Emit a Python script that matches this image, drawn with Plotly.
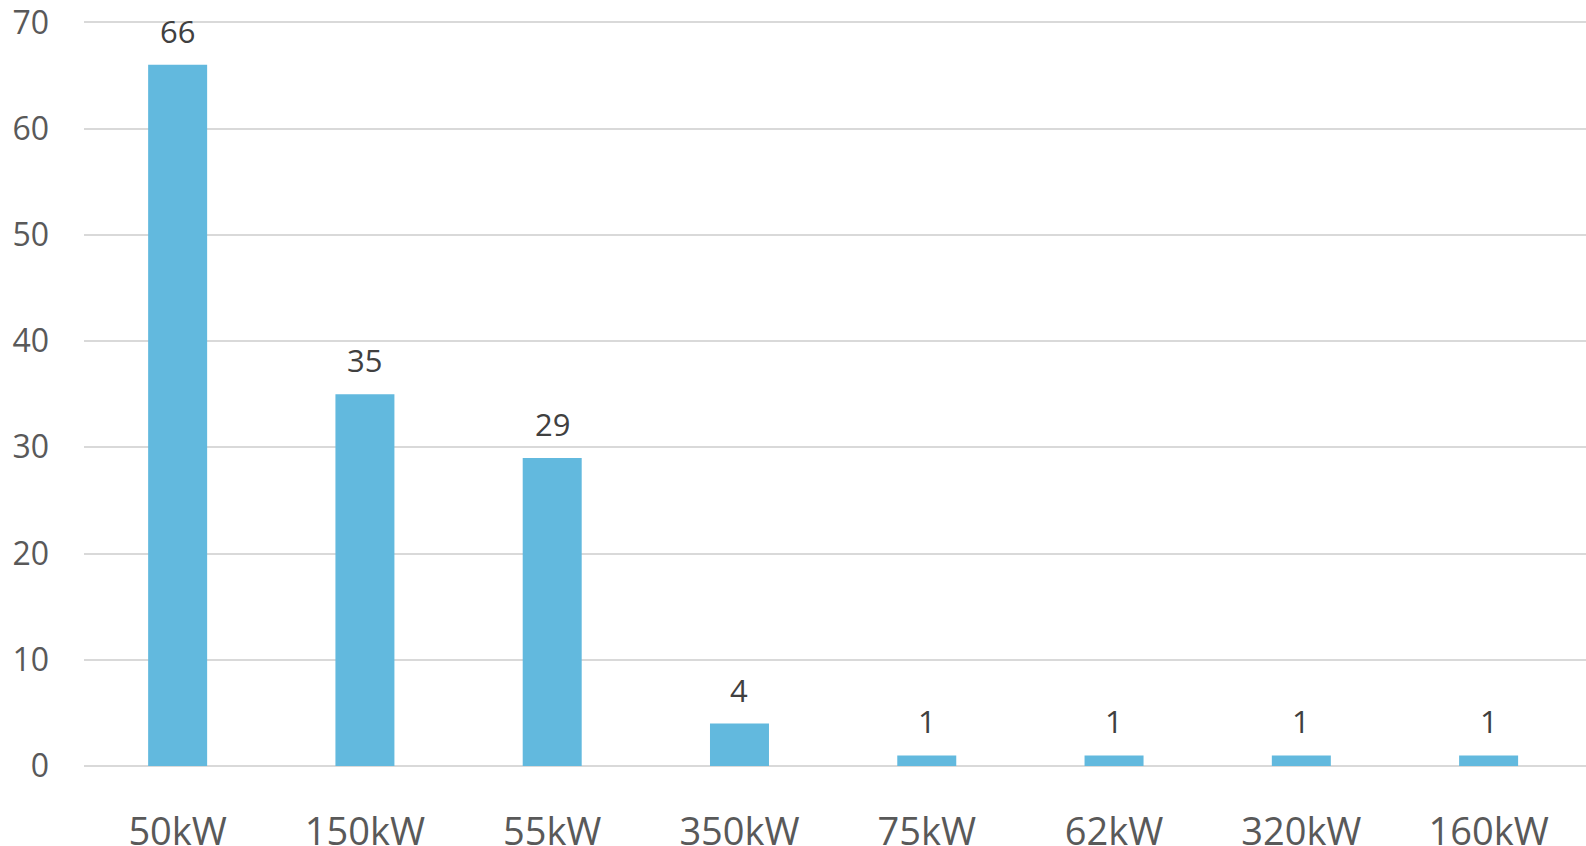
import plotly.graph_objects as go

categories = ["50kW", "150kW", "55kW", "350kW", "75kW", "62kW", "320kW", "160kW"]
values = [66, 35, 29, 4, 1, 1, 1, 1]
y_ticks = [0, 10, 20, 30, 40, 50, 60, 70]

FONT = "Open Sans"

fig = go.Figure()
fig.add_trace(go.Bar(
    x=categories, y=values,
    marker=dict(color="#62B9DE", line=dict(width=0)),
    hoverinfo="x+y",
))

for c, v in zip(categories, values):
    fig.add_annotation(
        x=c, y=v, text=str(v), showarrow=False,
        yanchor="bottom", yshift=11,
        font=dict(family=FONT, size=31, color="#404040"),
    )

fig.update_layout(
    width=1586, height=846,
    margin=dict(l=84, r=0, t=17, b=80, pad=0),
    paper_bgcolor="white", plot_bgcolor="white",
    bargap=0.685,
    showlegend=False,
    xaxis=dict(
        type="category", automargin=False,
        range=[-0.5, 7.52],
        showgrid=False, zeroline=False, showline=False,
        ticks="outside", ticklen=32, tickcolor="rgba(0,0,0,0)",
        tickfont=dict(family=FONT, size=38, color="#595959"),
        ticklabeloverflow="allow",
    ),
    yaxis=dict(
        range=[0, 70.5], tickvals=y_ticks, automargin=False,
        showgrid=True, gridcolor="#D9D9D9", gridwidth=1.5,
        zeroline=True, zerolinecolor="#D9D9D9", zerolinewidth=1.5,
        showline=False,
        ticklabelstandoff=34,
        ticklabeloverflow="allow",
        tickfont=dict(family=FONT, size=32, color="#595959"),
    ),
)

fig.write_html(
    "out.html",
    config={"displayModeBar": False},
    post_script="document.body.style.margin='0';document.body.style.overflow='hidden';",
)
